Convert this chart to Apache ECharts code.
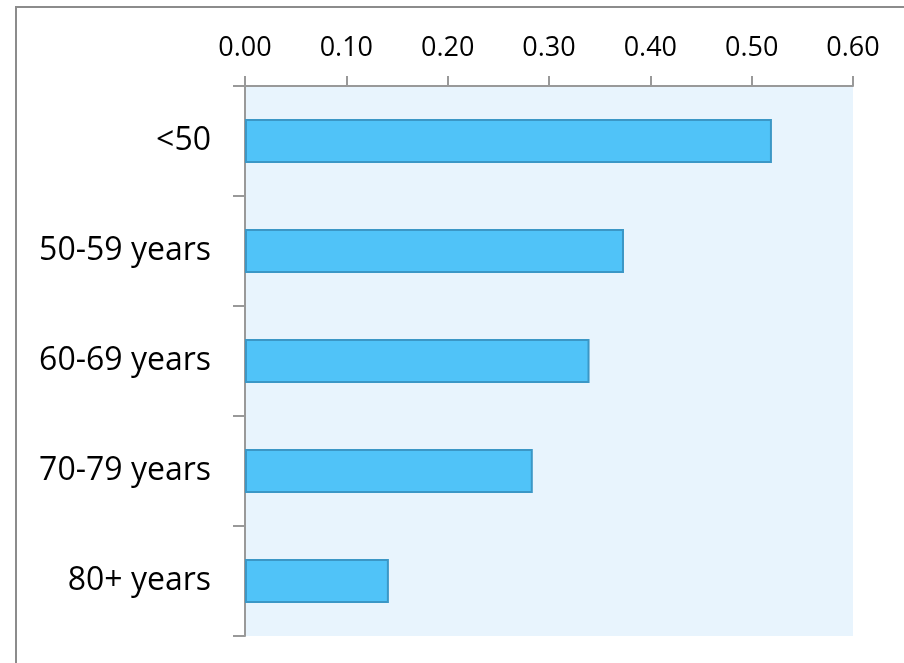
<!DOCTYPE html>
<html>
<head>
<meta charset="utf-8">
<script src="https://cdn.jsdelivr.net/npm/echarts@6/dist/echarts.min.js"></script>
<style>
  html, body { margin: 0; padding: 0; background: #fff; }
  #chart { width: 904px; height: 663px; }
</style>
</head>
<body>
<div id="chart"></div>
<script>
// categories top to bottom
var categories = ['<50', '50-59 years', '60-69 years', '70-79 years', '80+ years']
var values = [0.520, 0.374, 0.340, 0.284, 0.142]
var xTicks = [0, 0.1, 0.2, 0.3, 0.4, 0.5, 0.6]

var chart = echarts.init(document.getElementById('chart'))

chart.setOption({
  animation: false,
  textStyle: { fontFamily: 'Open Sans' },
  graphic: [{
    // outer frame, only top and left edges visible
    type: 'rect',
    shape: { x: 16, y: 7, width: 1000, height: 1000 },
    style: { fill: 'none', stroke: '#8c8c8c', lineWidth: 2 },
    silent: true
  }],
  grid: {
    left: 245,
    right: 51,
    top: 86,
    bottom: 27,
    show: true,
    backgroundColor: '#e8f4fd',
    borderWidth: 0
  },
  xAxis: {
    type: 'value',
    position: 'top',
    min: xTicks[0],
    max: xTicks[xTicks.length - 1],
    interval: 0.1,
    axisLine: { show: true, lineStyle: { color: '#999', width: 2 } },
    axisTick: { show: true, length: 10, lineStyle: { color: '#999', width: 2 } },
    splitLine: { show: false },
    axisLabel: {
      color: '#000',
      fontSize: 27,
      margin: 24,
      formatter: function (v) { return v.toFixed(2) }
    }
  },
  yAxis: {
    type: 'category',
    inverse: true,
    data: categories,
    axisLine: { show: true, lineStyle: { color: '#999', width: 2 } },
    axisTick: { show: true, length: 12, lineStyle: { color: '#999', width: 2 } },
    axisLabel: { color: '#000', fontSize: 32, margin: 34 }
  },
  series: [{
    type: 'bar',
    data: values,
    barWidth: 44,
    itemStyle: {
      color: '#50c3f8',
      borderColor: '#3b97c6',
      borderWidth: 2
    }
  }]
})
</script>
</body>
</html>
